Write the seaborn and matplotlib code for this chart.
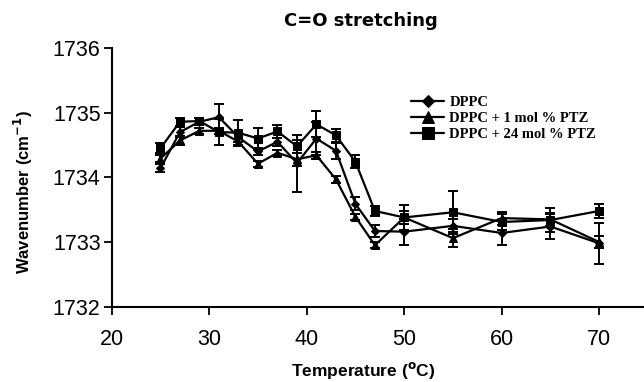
import numpy as np
import pandas as pd
import matplotlib
matplotlib.use("Agg")
import matplotlib.pyplot as plt
import seaborn as sns

# Temperatures (°C) and C=O stretching band positions (cm-1) with SD
temperature = [25, 27, 29, 31, 33, 35, 37, 39, 41, 43, 45, 47, 50, 55, 60, 65, 70]

dppc = [1734.14, 1734.70, 1734.86, 1734.93, 1734.62, 1734.40, 1734.55, 1734.22,
        1734.60, 1734.41, 1733.59, 1733.17, 1733.16, 1733.25, 1733.14, 1733.24, 1732.98]
dppc_sd = [0.06, 0.08, 0.05, 0.20, 0.08, 0.05, 0.06, 0.44,
           0.25, 0.12, 0.10, 0.10, 0.20, 0.10, 0.18, 0.20, 0.32]

ptz1 = [1734.29, 1734.57, 1734.72, 1734.72, 1734.55, 1734.21, 1734.38, 1734.28,
        1734.34, 1733.97, 1733.39, 1732.95, 1733.38, 1733.06, 1733.37, 1733.35, 1733.00]
ptz1_sd = [0.06, 0.07, 0.05, 0.05, 0.05, 0.05, 0.05, 0.10,
           0.05, 0.05, 0.05, 0.05, 0.10, 0.14, 0.10, 0.10, 0.10]

ptz24 = [1734.45, 1734.86, 1734.87, 1734.70, 1734.69, 1734.60, 1734.71, 1734.48,
         1734.82, 1734.65, 1734.24, 1733.48, 1733.38, 1733.46, 1733.31, 1733.34, 1733.48]
ptz24_sd = [0.08, 0.06, 0.05, 0.20, 0.20, 0.17, 0.10, 0.10,
            0.20, 0.10, 0.10, 0.08, 0.20, 0.33, 0.12, 0.18, 0.11]

series_names = ["DPPC", "DPPC + 1 mol % PTZ", "DPPC + 24 mol % PTZ"]
series_vals = [dppc, ptz1, ptz24]
series_sd = [dppc_sd, ptz1_sd, ptz24_sd]
series_marker = ["D", "^", "s"]
series_msize = [4.3, 6.0, 5.8]

sns.set_style("ticks")
plt.rcParams["font.family"] = ["Liberation Sans", "DejaVu Sans"]
plt.rcParams["text.color"] = "black"
plt.rcParams["axes.labelcolor"] = "black"

fig = plt.figure(figsize=(6.44, 3.82), dpi=100)
ax = fig.add_axes([111.7 / 644, (382 - 306.7) / 382, 1 - 111.7 / 644, (306.7 - 48) / 382])

for name, vals, sd, mk, ms in zip(series_names, series_vals, series_sd,
                                  series_marker, series_msize):
    g = pd.DataFrame({"Temperature": temperature, "Wavenumber": vals, "SD": sd})
    ax.errorbar(g["Temperature"], g["Wavenumber"], yerr=g["SD"], fmt="none",
                ecolor="black", elinewidth=1.4, capsize=3.6, capthick=1.4, zorder=2)
    sns.lineplot(data=g, x="Temperature", y="Wavenumber", color="black",
                 marker=mk, markersize=ms, markeredgecolor="black", linewidth=1.6,
                 label=name, ax=ax, zorder=3)

ax.set_xlim(20, 74.6)
ax.set_ylim(1732, 1736)
ax.set_xticks([20, 30, 40, 50, 60, 70])
ax.set_yticks([1732, 1733, 1734, 1735, 1736])
ax.tick_params(axis="both", labelsize=15.5, length=6, width=1.3, color="black",
               labelcolor="black")
ax.tick_params(axis="x", pad=10)
ax.tick_params(axis="y", pad=2)
for side in ["left", "bottom"]:
    ax.spines[side].set_linewidth(1.5)
    ax.spines[side].set_color("black")
sns.despine(ax=ax)

ax.set_xlabel(r"Temperature ($\mathbf{^{o}}$C)", fontsize=12.5, fontweight="bold")
ax.set_ylabel(r"Wavenumber (cm$\mathbf{^{-1}}$)", fontsize=12, fontweight="bold")
ax.xaxis.set_label_coords((363 - 111.7) / 532.3, (306.7 - 360) / 258.7)
ax.yaxis.set_label_coords((35 - 111.7) / 532.3, (306.7 - 192) / 258.7)
fig.text(361 / 644, 1 - 21 / 382, "C=O stretching", fontsize=13, fontweight="bold",
         family="DejaVu Sans", color="black", ha="center", va="center")

handles, labels = ax.get_legend_handles_labels()
ax.legend(handles, labels, loc="upper left", bbox_to_anchor=(405 / 644, 1 - 90 / 382),
          bbox_transform=fig.transFigure, frameon=False, handlelength=2.3,
          handletextpad=0.35, labelspacing=0.2, borderaxespad=0, markerscale=1.45,
          prop={"family": ["Liberation Serif", "DejaVu Serif"], "weight": "bold", "size": 10.5})

fig.savefig("out.png", dpi=100)
